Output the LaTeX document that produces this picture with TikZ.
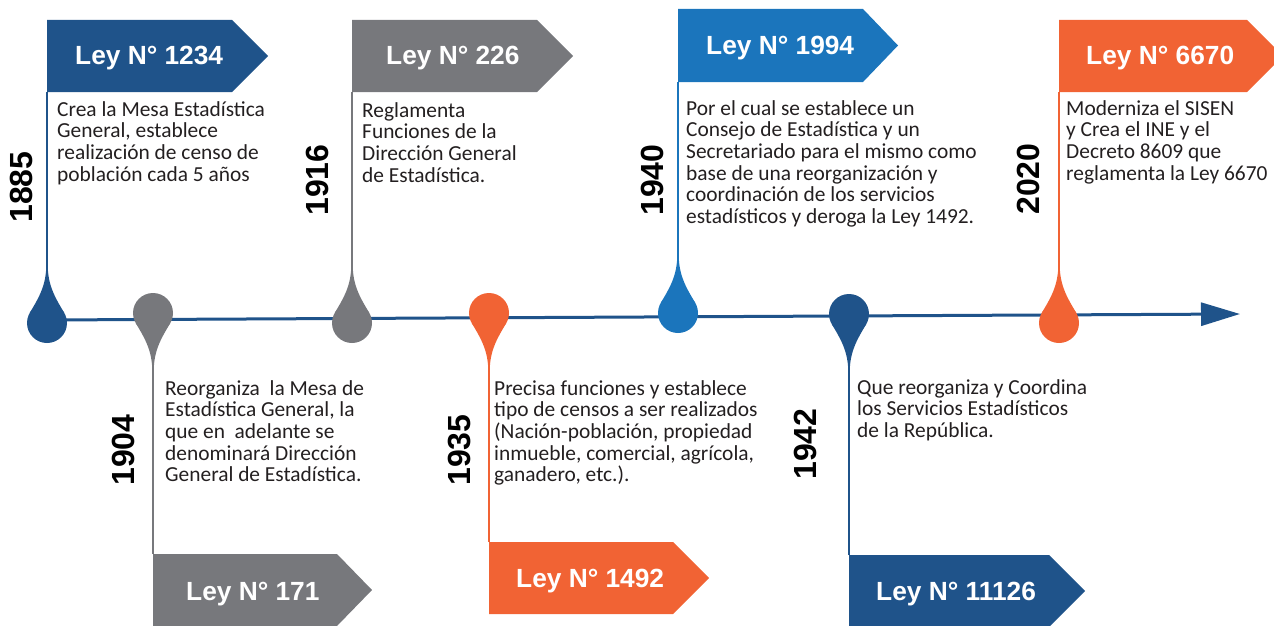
\documentclass[tikz,border=0pt]{standalone}
\usepackage{fontspec}
\setmainfont{Carlito}
\newfontfamily\headfont{Liberation Sans}
\usetikzlibrary{arrows.meta}
\definecolor{dblue}{RGB}{31,83,138}
\definecolor{lgray}{RGB}{119,120,124}
\definecolor{orng}{RGB}{241,99,52}
\definecolor{mblue}{RGB}{27,117,188}
\definecolor{txt}{RGB}{35,31,32}
\newcommand\dropup[3]{%
  \fill[#1] (#2,#3) circle (20);
  \fill[#1] (#2,#3) ++(-17.3,-10) .. controls +(7,-12) and +(-0.7,20) .. ++(16.5,-45)
     -- ++(1.6,0) .. controls +(0.7,20) and +(-7,-12) .. ++(16.5,45) -- cycle;}
\newcommand\dropdown[3]{%
  \fill[#1] (#2,#3) circle (20);
  \fill[#1] (#2,#3) ++(-17.3,10) .. controls +(7,12) and +(-0.7,-20) .. ++(16.5,45)
     -- ++(1.6,0) .. controls +(0.7,-20) and +(-7,12) .. ++(16.5,-45) -- cycle;}
\begin{document}
\begin{tikzpicture}[x=1pt,y=-1pt,
  law/.style={font=\headfont\bfseries\fontsize{26.3}{30}\selectfont, text=white, inner sep=0, anchor=base west},
  yr/.style={font=\headfont\bfseries\fontsize{32}{38}\selectfont, text=black, rotate=90, inner sep=0},
  desc/.style={font=\fontsize{21.4}{21.6}\selectfont, text=txt, align=left, anchor=north west, inner sep=0},
  conn/.style={line width=1.5pt}]
\useasboundingbox (0,0) rectangle (1274,626);
\clip (0,0) rectangle (1274,626);

% boxes
\fill[dblue] (47,20) -- (232,20) -- (268,56) -- (232,92) -- (47,92) -- cycle;
\fill[lgray] (352,20) -- (537,20) -- (573,56) -- (537,92) -- (352,92) -- cycle;
\fill[mblue] (678,9) -- (863,9) -- (898,45.5) -- (863,82) -- (678,82) -- cycle;
\fill[orng] (1059,20) -- (1247,20) -- (1283,56) -- (1247,92) -- (1059,92) -- cycle;
\fill[lgray] (153,554) -- (337,554) -- (372,590) -- (337,626) -- (153,626) -- cycle;
\fill[orng] (489,542) -- (673,542) -- (709,578) -- (673,614) -- (489,614) -- cycle;
\fill[dblue] (849,555) -- (1049,555) -- (1085,591) -- (1049,627) -- (849,627) -- cycle;

% law titles
\node[law] (l1885) at (75,65) {Ley N° 1234};
\node[law] (l1916) at (386,65) {Ley N° 226};
\node[law] (l1940) at (706,55) {Ley N° 1994};
\node[law] (l2020) at (1086,65) {Ley N° 6670};
\node[law] (l1904) at (186,600) {Ley N° 171};
\node[law] (l1935) at (516,587) {Ley N° 1492};
\node[law] (l1942) at (876,600) {Ley N° 11126};

% connector end points
\coordinate (b1885) at (47,92);   \coordinate (t1885) at (47,270);
\coordinate (b1916) at (352,92);  \coordinate (t1916) at (352,270);
\coordinate (b1940) at (678,82);  \coordinate (t1940) at (678,260);
\coordinate (b2020) at (1059,92); \coordinate (t2020) at (1059,270);
\coordinate (b1904) at (153,554); \coordinate (t1904) at (153,366);
\coordinate (b1935) at (489,542); \coordinate (t1935) at (489,366);
\coordinate (b1942) at (849,555); \coordinate (t1942) at (849,367);

\draw[conn,dblue] (b1885) -- (t1885);
\draw[conn,lgray] (b1916) -- (t1916);
\draw[conn,mblue] (b1940) -- (t1940);
\draw[conn,orng] (b2020) -- (t2020);
\draw[conn,lgray] (b1904) -- (t1904);
\draw[conn,orng] (b1935) -- (t1935);
\draw[conn,dblue] (b1942) -- (t1942);

% main time line
\coordinate (lstart) at (47,320);
\coordinate (lend) at (1240,314);
\draw[dblue, line width=3pt, -{Triangle[length=39pt,width=23pt]}] (lstart) -- (lend);

% drops
\dropup{dblue}{47}{323}
\dropdown{lgray}{153}{313}
\dropup{lgray}{352}{323}
\dropdown{orng}{489}{313}
\dropup{mblue}{678}{313}
\dropdown{dblue}{849}{314}
\dropup{orng}{1059}{323}

% years
\node[yr] (y1885) at (21.5,187) {1885};
\node[yr] (y1904) at (123,450) {1904};
\node[yr] (y1916) at (317,180) {1916};
\node[yr] (y1935) at (460,450) {1935};
\node[yr] (y1940) at (652,180) {1940};
\node[yr] (y1942) at (805,444) {1942};
\node[yr] (y2020) at (1028,179) {2020};

% descriptions
\node[desc] (d1885) at (57,99) {\rule{0pt}{17pt}Crea la Mesa Estadística\\General, establece\\realización de censo de\\población cada 5 años};
\node[desc] (d1916) at (362,100) {\rule{0pt}{17pt}Reglamenta\\Funciones de la\\Dirección General\\de Estadística.};
\node[desc] (d1940) at (686,98) {\rule{0pt}{17pt}Por el cual se establece un\\Consejo de Estadística y un\\Secretariado para el mismo como\\base de una reorganización y\\coordinación de los servicios\\estadísticos y deroga la Ley 1492.};
\node[desc] (d2020) at (1066,98) {\rule{0pt}{17pt}Moderniza el SISEN\\y Crea el INE y el\\Decreto 8609 que\\reglamenta la Ley 6670};
\node[desc] (d1904) at (165,378) {\rule{0pt}{17pt}Reorganiza \ la Mesa de\\Estadística General, la\\que en \ adelante se\\denominará Dirección\\General de Estadística.};
\node[desc] (d1935) at (494,378) {\rule{0pt}{17pt}Precisa funciones y establece\\tipo de censos a ser realizados\\(Nación-población, propiedad\\inmueble, comercial, agrícola,\\ganadero, etc.).};
\node[desc] (d1942) at (857,377) {\rule{0pt}{17pt}Que reorganiza y Coordina\\los Servicios Estadísticos\\de la República.};
\end{tikzpicture}
\end{document}
